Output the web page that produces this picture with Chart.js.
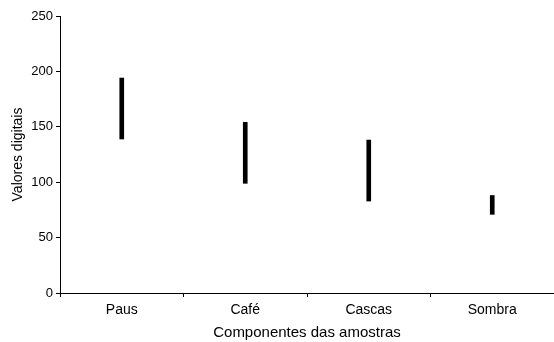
<!DOCTYPE html>
<html>
<head>
<meta charset="utf-8">
<script src="https://cdn.jsdelivr.net/npm/chart.js@4"></script>
<style>
  html, body { margin: 0; padding: 0; background: #fff; }
  #wrap { width: 554px; height: 342px; }
</style>
</head>
<body>
<div id="wrap"><canvas id="chart" width="554" height="342"></canvas></div>
<script>
// range of digital values per sample component
const categories = ["Paus", "Café", "Cascas", "Sombra"];
const lowValues  = [139, 99, 83, 71];
const highValues = [194, 154, 138, 88];
const yTicks     = [0, 50, 100, 150, 200, 250];

const font = { family: "'Liberation Sans', Arial, sans-serif", size: 13 };

new Chart(document.getElementById("chart"), {
  type: "bar",
  data: {
    labels: categories,
    datasets: [{
      data: categories.map((_, i) => [lowValues[i], highValues[i]]),
      backgroundColor: "#000",
      borderWidth: 0,
      barThickness: 4
    }]
  },
  options: {
    responsive: false,
    animation: false,
    layout: { padding: { top: 16, right: 0, left: 0, bottom: 0 } },
    plugins: { legend: { display: false }, tooltip: { enabled: false } },
    scales: {
      x: {
        offset: true,
        grid: { offset: true, drawOnChartArea: false, drawTicks: true, tickLength: 4, color: "#000" },
        border: { color: "#000", width: 1 },
        ticks: { color: "#000", font: { ...font, size: 14 }, padding: 5, maxRotation: 0 },
        title: { display: true, text: "Componentes das amostras", color: "#000",
                 font: { ...font, size: 15 }, padding: { top: 4, bottom: 0 } },
        afterFit: s => { s.height = 49; }
      },
      y: {
        min: 0,
        max: 250,
        afterBuildTicks: s => { s.ticks = yTicks.map(v => ({ value: v })); },
        grid: { drawOnChartArea: false, drawTicks: true, tickLength: 4, color: "#000" },
        border: { color: "#000", width: 1 },
        ticks: { color: "#000", font, padding: 3 },
        title: { display: true, text: "Valores digitais", color: "#000",
                 font: { ...font, size: 14 }, padding: { top: 10, bottom: 4 } },
        afterFit: s => { s.width = 60; }
      }
    }
  }
});
</script>
</body>
</html>
